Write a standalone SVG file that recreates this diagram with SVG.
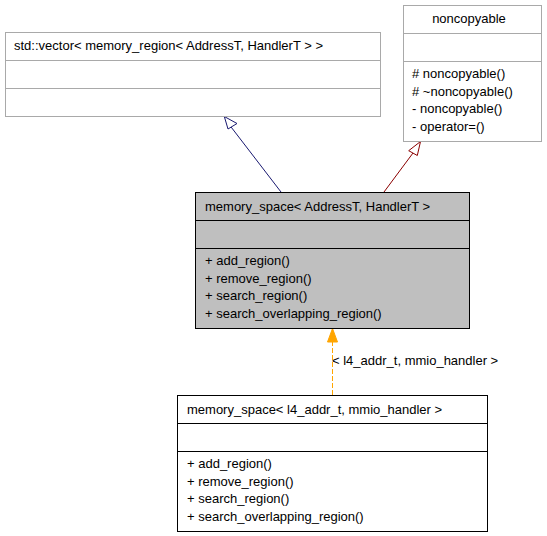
<svg xmlns="http://www.w3.org/2000/svg" width="547" height="536" viewBox="0 0 547 536">
<style>
text{font-family:"Liberation Sans",Arial,sans-serif;font-size:13px;fill:#000}
.gray rect,.gray line{stroke:#a9a9a9;stroke-width:1}
.blk rect,.blk line{stroke:#000;stroke-width:1}
.mid{text-anchor:middle}
</style>
<rect width="547" height="536" fill="#fff"/>
<g id="connectors">
<g id="edge-vector">
<line x1="281" y1="192" x2="228" y2="123" stroke="#191970"/>
<polygon points="224.3,116.5 228,129 237,123.5" fill="#fff" stroke="#191970"/>
</g>
<g id="edge-noncopyable">
<line x1="384" y1="192" x2="413" y2="153" stroke="#8b0000"/>
<polygon points="420.5,141.5 408.7,150.7 417.3,155.5" fill="#fff" stroke="#8b0000"/>
</g>
<g id="edge-template">
<line x1="332.5" y1="395" x2="332.5" y2="342" stroke="#ffa500" stroke-dasharray="5,2"/>
<polygon points="332.5,328.5 327.5,342 337.5,342" fill="#ffa500" stroke="#ffa500"/>
<text x="332" y="365">&lt; l4_addr_t, mmio_handler &gt;</text>
</g>
</g>
<g id="node-vector" class="gray">
<rect x="5.5" y="32.5" width="375" height="84" fill="#fff"/>
<line x1="5.5" y1="60.5" x2="380.5" y2="60.5"/>
<line x1="5.5" y1="88.5" x2="380.5" y2="88.5"/>
<text x="14" y="50">std::vector&lt; memory_region&lt; AddressT, HandlerT &gt; &gt;</text>
</g>
<g id="node-noncopyable" class="gray">
<rect x="403.5" y="5.5" width="138" height="136" fill="#fff"/>
<line x1="403.5" y1="33.5" x2="541.5" y2="33.5"/>
<line x1="403.5" y1="61.5" x2="541.5" y2="61.5"/>
<text x="469" y="23" class="mid">noncopyable</text>
<text x="412" y="78">#  noncopyable()</text>
<text x="412" y="95.5">#  ~noncopyable()</text>
<text x="412" y="113">- noncopyable()</text>
<text x="412" y="130.5">- operator=()</text>
</g>
<g id="node-memory-space" class="blk">
<rect x="195.5" y="192.5" width="274" height="136" fill="#bfbfbf"/>
<line x1="195.5" y1="220.5" x2="469.5" y2="220.5"/>
<line x1="195.5" y1="248.5" x2="469.5" y2="248.5"/>
<text x="205" y="211">memory_space&lt; AddressT, HandlerT &gt;</text>
<text x="205" y="265">+ add_region()</text>
<text x="205" y="282.5">+ remove_region()</text>
<text x="205" y="300">+ search_region()</text>
<text x="205" y="317.5">+ search_overlapping_region()</text>
</g>
<g id="node-memory-space-l4" class="blk">
<rect x="177.5" y="395.5" width="310" height="136" fill="#fff"/>
<line x1="177.5" y1="423.5" x2="487.5" y2="423.5"/>
<line x1="177.5" y1="451.5" x2="487.5" y2="451.5"/>
<text x="187" y="414">memory_space&lt; l4_addr_t, mmio_handler &gt;</text>
<text x="187" y="468">+ add_region()</text>
<text x="187" y="485.5">+ remove_region()</text>
<text x="187" y="503">+ search_region()</text>
<text x="187" y="520.5">+ search_overlapping_region()</text>
</g>
</svg>
